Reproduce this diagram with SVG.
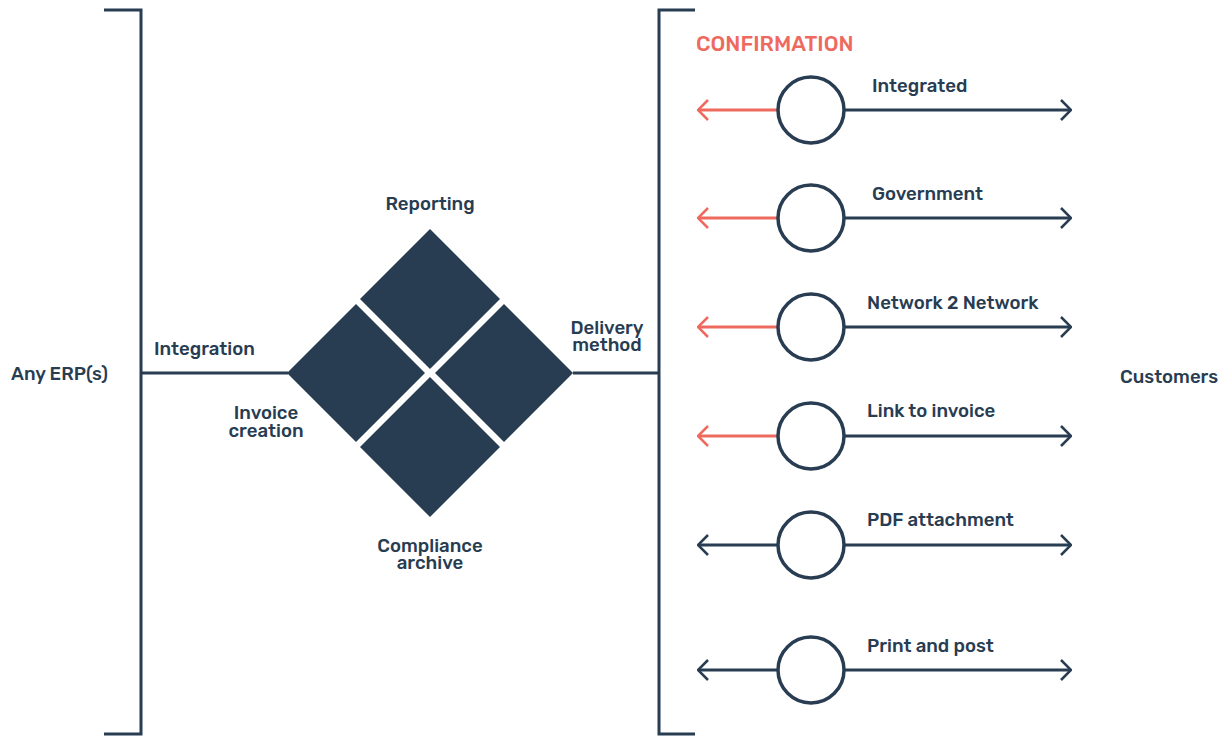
<svg xmlns="http://www.w3.org/2000/svg" width="1228" height="736" viewBox="0 0 1228 736">
<defs>
<style>
.t{font-family:"Rubik","Noto Sans","Liberation Sans",sans-serif;font-weight:500;font-size:18.6px;fill:#283C52}
.c{text-anchor:middle}
.ln{stroke:#283C52;stroke-width:3;fill:none}
.red{stroke:#EE6A5F;stroke-width:3;fill:none}
.dm{fill:#283C52}
.circ{fill:#fff;stroke:#283C52;stroke-width:3.5}
</style>
<marker id="ad" viewBox="0 0 12 22" refX="11" refY="11" markerWidth="12" markerHeight="22" markerUnits="userSpaceOnUse" orient="auto-start-reverse"><path d="M1,1 L11,11 L1,21" fill="none" stroke="#283C52" stroke-width="2.5"/></marker>
<marker id="ar" viewBox="0 0 12 22" refX="11" refY="11" markerWidth="12" markerHeight="22" markerUnits="userSpaceOnUse" orient="auto-start-reverse"><path d="M1,1 L11,11 L1,21" fill="none" stroke="#EE6A5F" stroke-width="2.5"/></marker>
</defs>
<rect width="1228" height="736" fill="#fff"/>
<g id="connectors">
<path class="ln" d="M104,10 H141 V734 H104"/>
<path class="ln" d="M695,10 H659 V734 H695"/>
<path class="ln" d="M141,373 H288"/>
<path class="ln" d="M573,373 H659"/>
<g id="row1"><path class="red" d="M778,110 H698" marker-end="url(#ar)"/><path class="ln" d="M845,110 H1071" marker-end="url(#ad)"/></g>
<g id="row2"><path class="red" d="M778,218 H698" marker-end="url(#ar)"/><path class="ln" d="M845,218 H1071" marker-end="url(#ad)"/></g>
<g id="row3"><path class="red" d="M778,327 H698" marker-end="url(#ar)"/><path class="ln" d="M845,327 H1071" marker-end="url(#ad)"/></g>
<g id="row4"><path class="red" d="M778,436 H698" marker-end="url(#ar)"/><path class="ln" d="M845,436 H1071" marker-end="url(#ad)"/></g>
<g id="row5"><path class="ln" d="M778,545 H698" marker-end="url(#ad)"/><path class="ln" d="M845,545 H1071" marker-end="url(#ad)"/></g>
<g id="row6"><path class="ln" d="M778,670 H698" marker-end="url(#ad)"/><path class="ln" d="M845,670 H1071" marker-end="url(#ad)"/></g>
</g>
<g id="erp"><text class="t" x="11" y="380">Any ERP(s)</text></g>
<g id="customers"><text class="t" x="1120" y="383">Customers</text></g>
<g id="integration"><text class="t" x="154" y="355">Integration</text></g>
<g id="diamond">
<polygon id="d-top" class="dm" points="430,229 500,299 430,369 360,299"/>
<polygon id="d-left" class="dm" points="287,373 356,304 425,373 356,442"/>
<polygon id="d-right" class="dm" points="435,373 504,304 573,373 504,442"/>
<polygon id="d-bottom" class="dm" points="430,377 500,447 430,517 360,447"/>
</g>
<g id="reporting"><text class="t c" x="430" y="210">Reporting</text></g>
<g id="invoice-creation"><text class="t c" x="266" y="419">Invoice<tspan x="266" dy="18">creation</tspan></text></g>
<g id="delivery"><text class="t c" x="607" y="334">Delivery<tspan x="607" dy="17">method</tspan></text></g>
<g id="compliance"><text class="t c" x="430" y="552">Compliance<tspan x="430" dy="17">archive</tspan></text></g>
<g id="confirmation"><text class="t" x="696" y="51" style="fill:#EE6A5F;font-size:21.3px">CONFIRMATION</text></g>
<g id="n-integrated"><circle class="circ" cx="811" cy="110" r="33"/><text class="t" x="872" y="92">Integrated</text></g>
<g id="n-government"><circle class="circ" cx="811" cy="218" r="33"/><text class="t" x="872" y="200">Government</text></g>
<g id="n-network"><circle class="circ" cx="811" cy="327" r="33"/><text class="t" x="867" y="309">Network 2 Network</text></g>
<g id="n-link"><circle class="circ" cx="811" cy="436" r="33"/><text class="t" x="867" y="417">Link to invoice</text></g>
<g id="n-pdf"><circle class="circ" cx="811" cy="545" r="33"/><text class="t" x="867" y="526">PDF attachment</text></g>
<g id="n-print"><circle class="circ" cx="811" cy="670" r="33"/><text class="t" x="867" y="652">Print and post</text></g>
</svg>
